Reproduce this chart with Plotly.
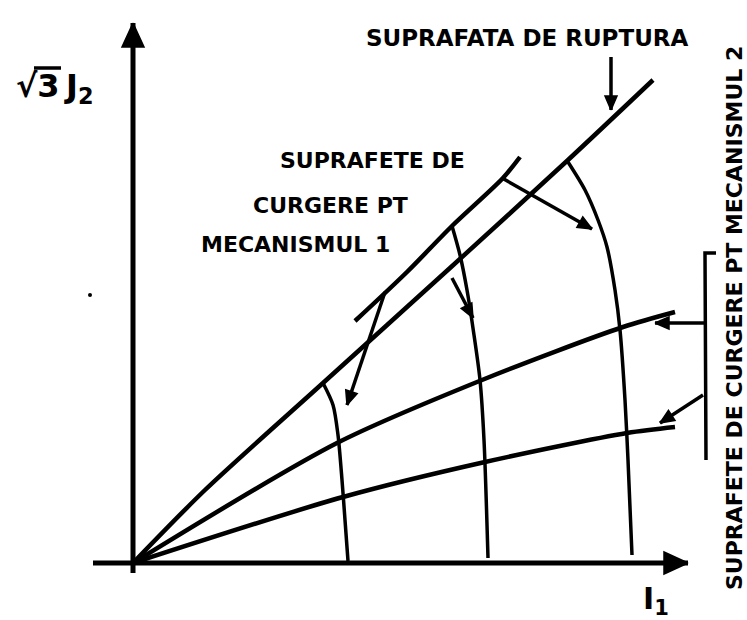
import math
import plotly.graph_objects as go

# Diagram units: origin at the crossing of the I1 and sqrt(3)*J2 axes, 1 unit = 1 px
# Failure (rupture) surface, nearly straight from the origin
RUPTURE_I1 = [0, 72, 190, 317, 435, 520]
RUPTURE_J2 = [0, 73, 180, 295, 403, 483]

# Upper envelope segment of the mechanism-1 yield surfaces
ENVELOPE_I1 = [222, 274, 319, 370, 387]
ENVELOPE_J2 = [242, 291, 337, 385, 406]

# Mechanism-2 yield surfaces (rays from the origin)
MECH2_UPPER_I1 = [0, 204, 349, 490, 542]
MECH2_UPPER_J2 = [0, 120, 183, 236, 251]
MECH2_LOWER_I1 = [0, 210, 352, 494, 542]
MECH2_LOWER_J2 = [0, 66, 101, 130, 136]

# Mechanism-1 yield caps
CAP1_I1 = [190, 200, 205, 209, 212, 215]
CAP1_J2 = [180, 158, 128, 83, 43, 2]
CAP2_I1 = [319, 327, 334, 341, 347, 351, 355]
CAP2_J2 = [337, 308, 273, 228, 183, 123, 5]
CAP3_I1 = [435, 452, 465, 474, 482, 487, 492, 495, 499]
CAP3_J2 = [401, 373, 343, 316, 273, 233, 163, 103, 8]

# Pointer arrows: (tail, tip)
ARROWS = [
    ((478, 506), (478, 453)),   # to the rupture surface
    ((369, 385), (459, 334)),   # hardening direction, outer cap
    ((319, 285), (340, 245)),   # hardening direction, middle cap
    ((252, 271), (214, 158)),   # from the mechanism 1 label
    ((573, 240), (522, 240)),   # from the mechanism 2 label, upper
    ((570, 168), (527, 140)),   # from the mechanism 2 label, lower
]
BRACKET_I1 = [583, 572, 573]
BRACKET_J2 = [310, 310, 103]

# Axes
AXIS_V = ((0, -10), (0, 540))
AXIS_H = ((-40, 0), (555, 0))

# vinculum of the square root in the ordinate label
ROOT_BAR_I1 = [-99, -72]
ROOT_BAR_J2 = [495, 495]

LABEL_RUPTURE = "SUPRAFATA DE RUPTURA"
LABEL_MECH1 = ["SUPRAFETE DE", "CURGERE PT", "MECANISMUL 1"]
LABEL_MECH2 = "SUPRAFETE DE CURGERE PT MECANISMUL 2"
LABEL_Y = "√3\u2009J<sub>2</sub>"
LABEL_X = "I<sub>1</sub>"

INK = "#000000"
FONT = "DejaVu Sans"

fig = go.Figure()


def polyline(xs, ys, width=4.0, spline=True):
    fig.add_trace(go.Scatter(
        x=xs, y=ys, mode="lines",
        line=dict(color=INK, width=width, shape="spline" if spline else "linear",
                  smoothing=0.8),
        hoverinfo="skip", showlegend=False))


def arrowhead(tail, tip, length=16.0, half=7.0):
    dx, dy = tip[0] - tail[0], tip[1] - tail[1]
    n = math.hypot(dx, dy)
    ux, uy = dx / n, dy / n
    bx, by = tip[0] - ux * length, tip[1] - uy * length
    px, py = -uy * half, ux * half
    fig.add_trace(go.Scatter(
        x=[tip[0], bx + px, bx - px, tip[0]],
        y=[tip[1], by + py, by - py, tip[1]],
        mode="lines", fill="toself", fillcolor=INK,
        line=dict(color=INK, width=1.5),
        hoverinfo="skip", showlegend=False))


# axes with arrowheads
for (t, h) in (AXIS_V, AXIS_H):
    polyline([t[0], h[0]], [t[1], h[1]], width=5, spline=False)
    arrowhead(t, h, length=24, half=11)

polyline(RUPTURE_I1, RUPTURE_J2, 4.5)
polyline(ENVELOPE_I1, ENVELOPE_J2, 4.5)
polyline(MECH2_UPPER_I1, MECH2_UPPER_J2, 4.5)
polyline(MECH2_LOWER_I1, MECH2_LOWER_J2, 4.5)
polyline(CAP1_I1, CAP1_J2, 3.5)
polyline(CAP2_I1, CAP2_J2, 3.5)
polyline(CAP3_I1, CAP3_J2, 3.5)
polyline(BRACKET_I1, BRACKET_J2, 3.5, spline=False)
polyline(ROOT_BAR_I1, ROOT_BAR_J2, 3.5, spline=False)

for tail, tip in ARROWS:
    polyline([tail[0], tip[0]], [tail[1], tip[1]], 3.5, spline=False)
    arrowhead(tail, tip, length=14, half=6)

# stray speck
fig.add_trace(go.Scatter(x=[-43], y=[268], mode="markers",
                         marker=dict(color=INK, size=4),
                         hoverinfo="skip", showlegend=False))

bold = dict(family=FONT, size=22, color=INK, weight="bold")

ann = [
    dict(x=394, y=525, text=LABEL_RUPTURE, font=dict(bold, size=23)),
    dict(x=239, y=403, text=LABEL_MECH1[0], font=bold),
    dict(x=197, y=358, text=LABEL_MECH1[1], font=bold),
    dict(x=162, y=319, text=LABEL_MECH1[2], font=bold),
    dict(x=601, y=245, text=LABEL_MECH2, font=bold, textangle=-90),
    dict(x=-119, y=475, xanchor="left", text=LABEL_Y,
         font=dict(family=FONT, size=32, color=INK, weight="bold")),
    dict(x=523, y=-37, text=LABEL_X,
         font=dict(family=FONT, size=30, color=INK, weight="bold")),
]
for a in ann:
    a.setdefault("xanchor", "center")
    a.update(xref="x", yref="y", showarrow=False, yanchor="middle")
fig.update_layout(annotations=ann)

fig.update_layout(
    width=747, height=620,
    margin=dict(l=0, r=0, t=0, b=0),
    paper_bgcolor="white", plot_bgcolor="white",
    xaxis=dict(range=[-133, 614], visible=False, fixedrange=True),
    yaxis=dict(range=[-57, 563], visible=False, fixedrange=True),
)

fig.write_html("out.html")
